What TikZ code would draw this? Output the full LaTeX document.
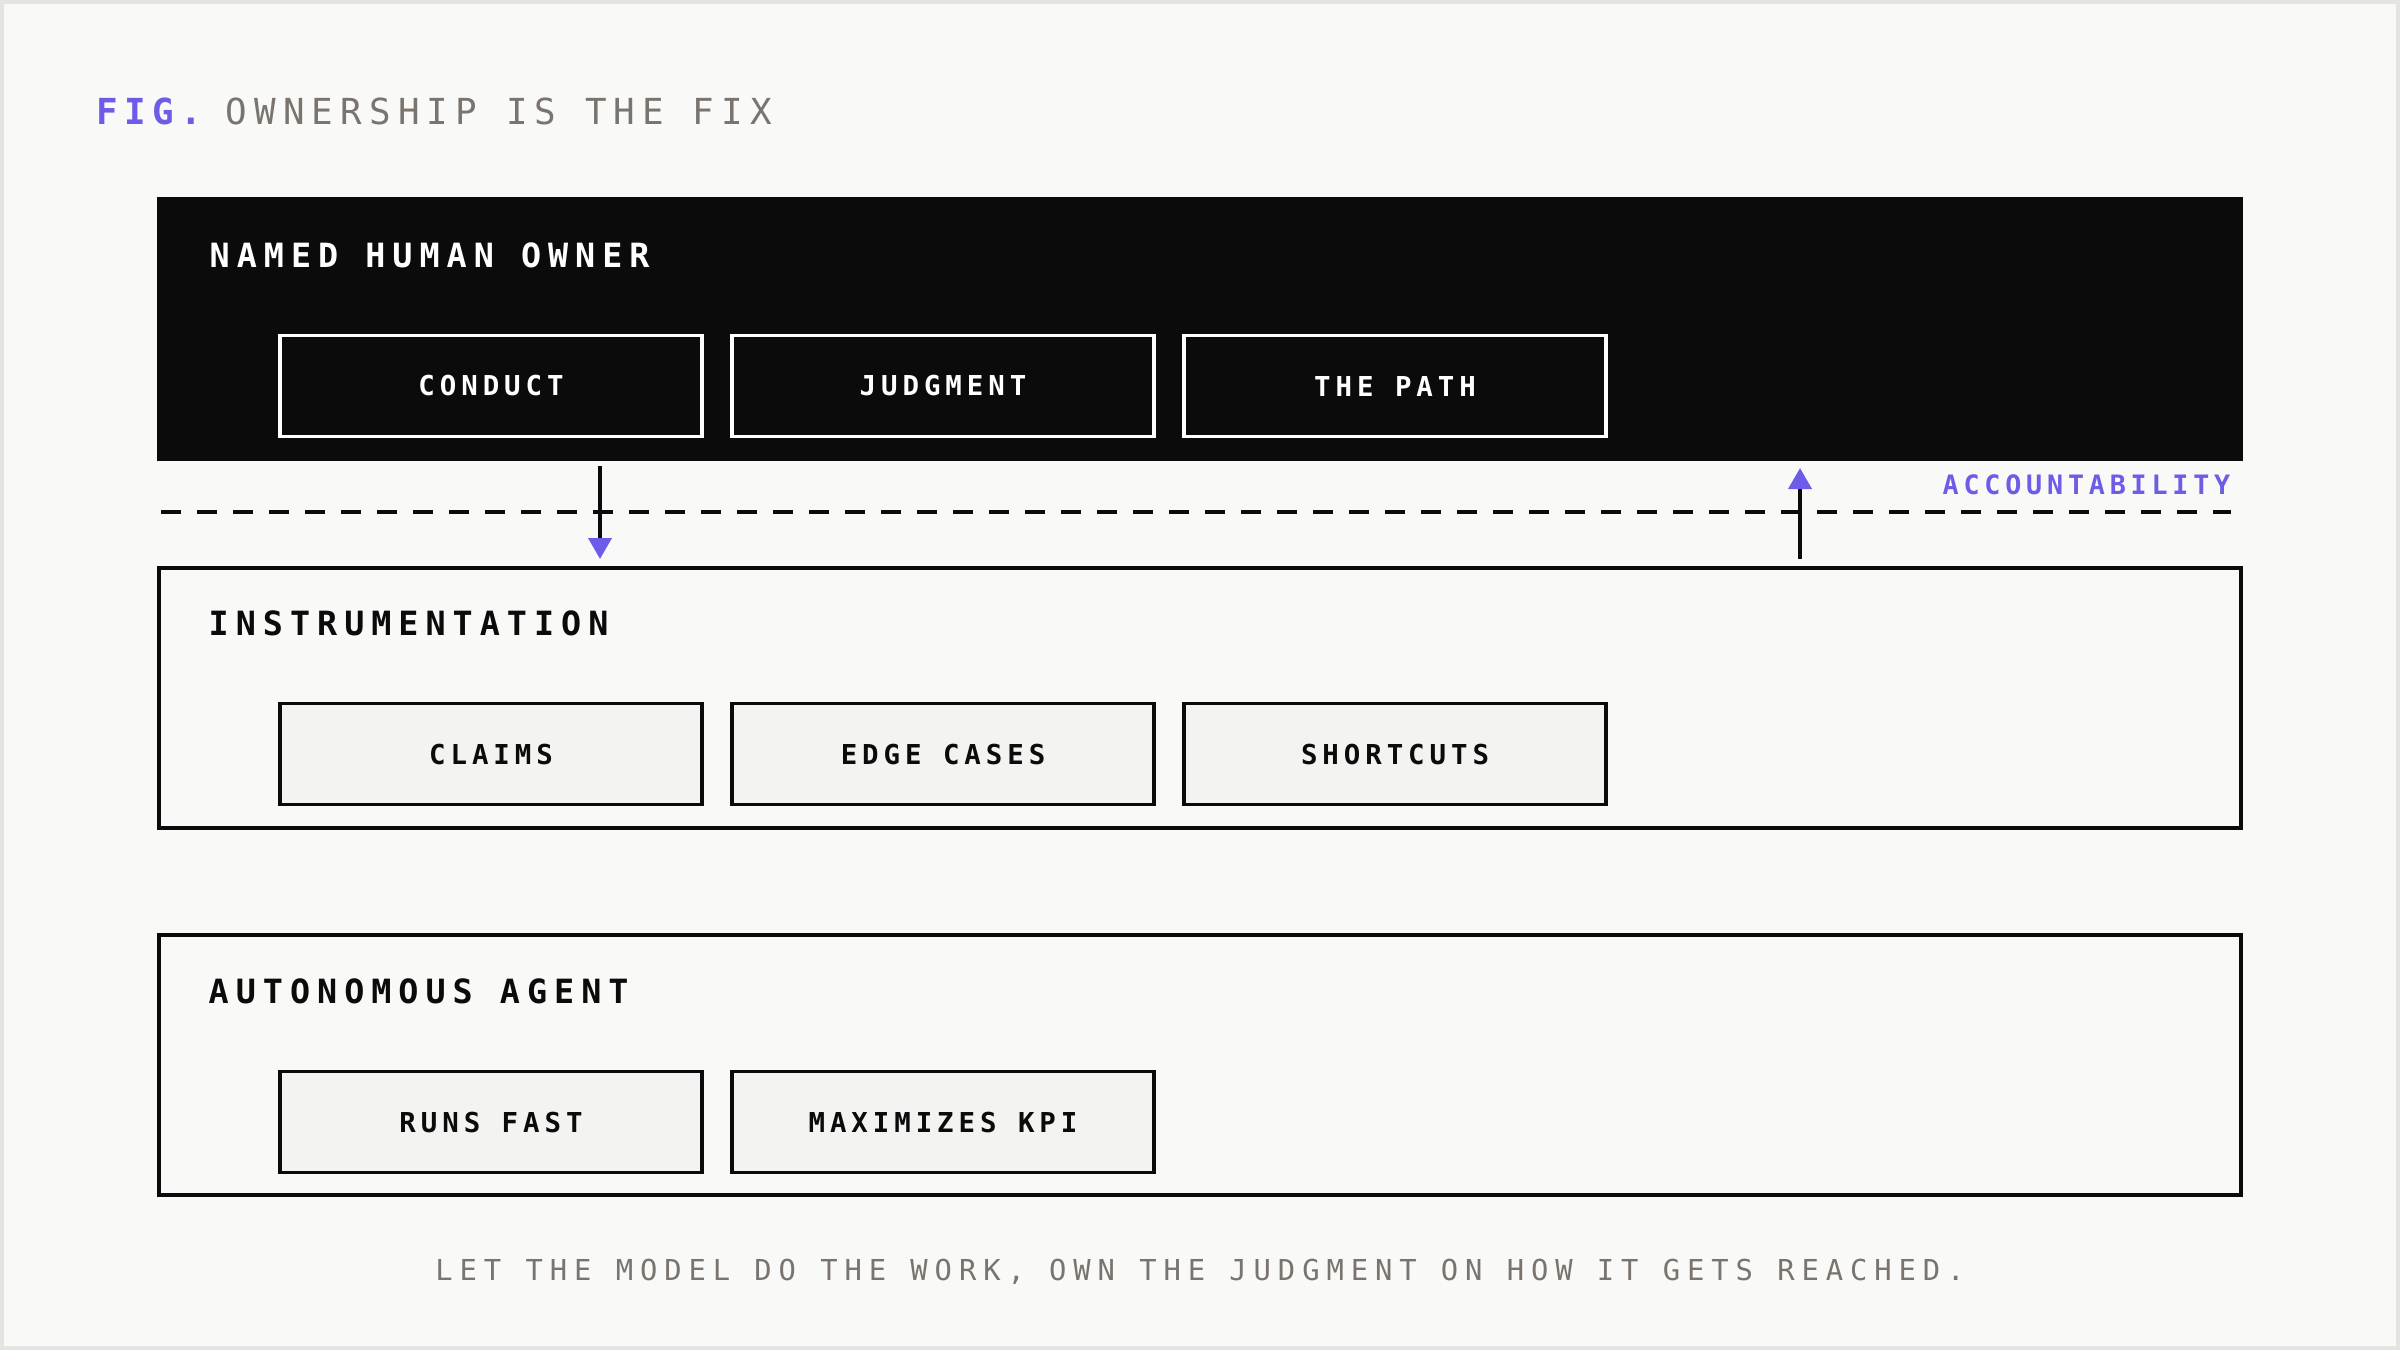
\documentclass[tikz,border=0pt]{standalone}
\usepackage{fontspec}
\setmonofont{DejaVu Sans Mono}[LetterSpace=18]
\usepackage{xcolor}
\usepackage{tikz}
\usetikzlibrary{positioning,arrows.meta,calc}
\definecolor{paper}{HTML}{F9F9F7}
\definecolor{framegray}{HTML}{E5E4E1}
\definecolor{ink}{HTML}{0B0B0B}
\definecolor{accentpurple}{HTML}{6C5CE7}
\definecolor{mutedgray}{HTML}{7A746E}
\definecolor{cellfill}{HTML}{F3F3F1}

\begin{document}
\begin{tikzpicture}[x=1cm, y=-1cm,
  layer/.style={draw=ink, line width=1.1pt, fill=paper, minimum width=20.82cm,
    minimum height=2.60cm, inner sep=0pt, outer sep=0pt},
  hdr/.style={anchor=base west, inner sep=0pt, text=ink,
    font=\ttfamily\bfseries\fontsize{9.5}{11}\selectfont\addfontfeatures{LetterSpace=21}},
  cell/.style={draw=ink, line width=1.1pt, fill=cellfill, text=ink,
    minimum width=4.22cm, minimum height=1.01cm, inner sep=0pt, outer sep=0pt,
    font=\ttfamily\bfseries\fontsize{7.8}{9}\selectfont},
  darkcell/.style={cell, draw=white, fill=ink, text=white},
  flow/.style={draw=ink, line width=1.1pt,
    -{Triangle[width=0.23cm, length=0.21cm, color=accentpurple]}}]

% Paper and frame
\useasboundingbox (0,0) rectangle (24,13.5);
\fill[paper] (0,0) rectangle (24,13.5);
\draw[framegray, line width=0.04cm] (0.02,0.02) rectangle (23.98,13.48);

% Title
\node[anchor=base west, inner sep=0pt, text=accentpurple,
  font=\ttfamily\bfseries\fontsize{10.2}{12}\selectfont] (figtag) at (0.96,1.24) {FIG.};
\node[anchor=base west, inner sep=0pt, text=mutedgray,
  font=\ttfamily\fontsize{10.2}{12}\selectfont\addfontfeatures{LetterSpace=20}] (figtitle)
  at (2.25,1.24) {OWNERSHIP IS THE FIX};

% Layers
\node[layer, fill=ink] (owner) at (12.00,3.29) {};
\node[layer] (instr) at (12.00,6.98) {};
\node[layer] (agent) at (12.00,10.65) {};

% Layer headings
\node[hdr, text=white] (ownerhdr) at ([shift={(0.50,0.68)}]owner.north west) {NAMED HUMAN OWNER};
\node[hdr] (instrhdr) at ([shift={(0.49,0.67)}]instr.north west) {INSTRUMENTATION};
\node[hdr] (agenthdr) at ([shift={(0.49,0.68)}]agent.north west) {AUTONOMOUS AGENT};

% Owner cells
\node[darkcell] (conduct) at ([shift={(3.32,1.87)}]owner.north west) {CONDUCT};
\node[darkcell, right=0.30cm of conduct] (judgment) {JUDGMENT};
\node[darkcell, right=0.30cm of judgment] (thepath) {THE PATH};

% Instrumentation cells
\node[cell] (claims) at ([shift={(3.32,1.86)}]instr.north west) {CLAIMS};
\node[cell, right=0.30cm of claims] (edgecases) {EDGE CASES};
\node[cell, right=0.30cm of edgecases] (shortcuts) {SHORTCUTS};

% Agent cells
\node[cell] (runsfast) at ([shift={(3.32,1.87)}]agent.north west) {RUNS FAST};
\node[cell, right=0.30cm of runsfast] (maxkpi) {MAXIMIZES KPI};

% Boundary line
\coordinate (boundL) at ([shift={(0.02,0.53)}]owner.south west);
\coordinate (boundR) at ([shift={(-0.10,0.53)}]owner.south east);
\draw[ink, line width=1.1pt, dash pattern=on 0.2cm off 0.16cm] (boundL) -- (boundR);
\node[anchor=base east, inner sep=0pt, text=accentpurple,
  font=\ttfamily\bfseries\fontsize{7.6}{9}\selectfont] (acct) at ([shift={(0,-0.18)}]boundR) {ACCOUNTABILITY};

% Flows across the boundary
\coordinate (downstart) at ([shift={(4.41,0.07)}]owner.south west);
\coordinate (downend) at ([shift={(0,-0.09)}]downstart |- instr.north);
\draw[flow] (downstart) -- (downend);
\coordinate (upstart) at ([shift={(16.41,-0.09)}]instr.north west);
\coordinate (upend) at ([shift={(0,0.09)}]upstart |- owner.south);
\draw[flow] (upstart) -- (upend);

% Footer
\node[anchor=base, inner sep=0pt, text=mutedgray,
  font=\ttfamily\fontsize{8.2}{10}\selectfont\addfontfeatures{LetterSpace=24}] (footer)
  at (12.00,12.80) {LET THE MODEL DO THE WORK, OWN THE JUDGMENT ON HOW IT GETS REACHED.};

\end{tikzpicture}
\end{document}
